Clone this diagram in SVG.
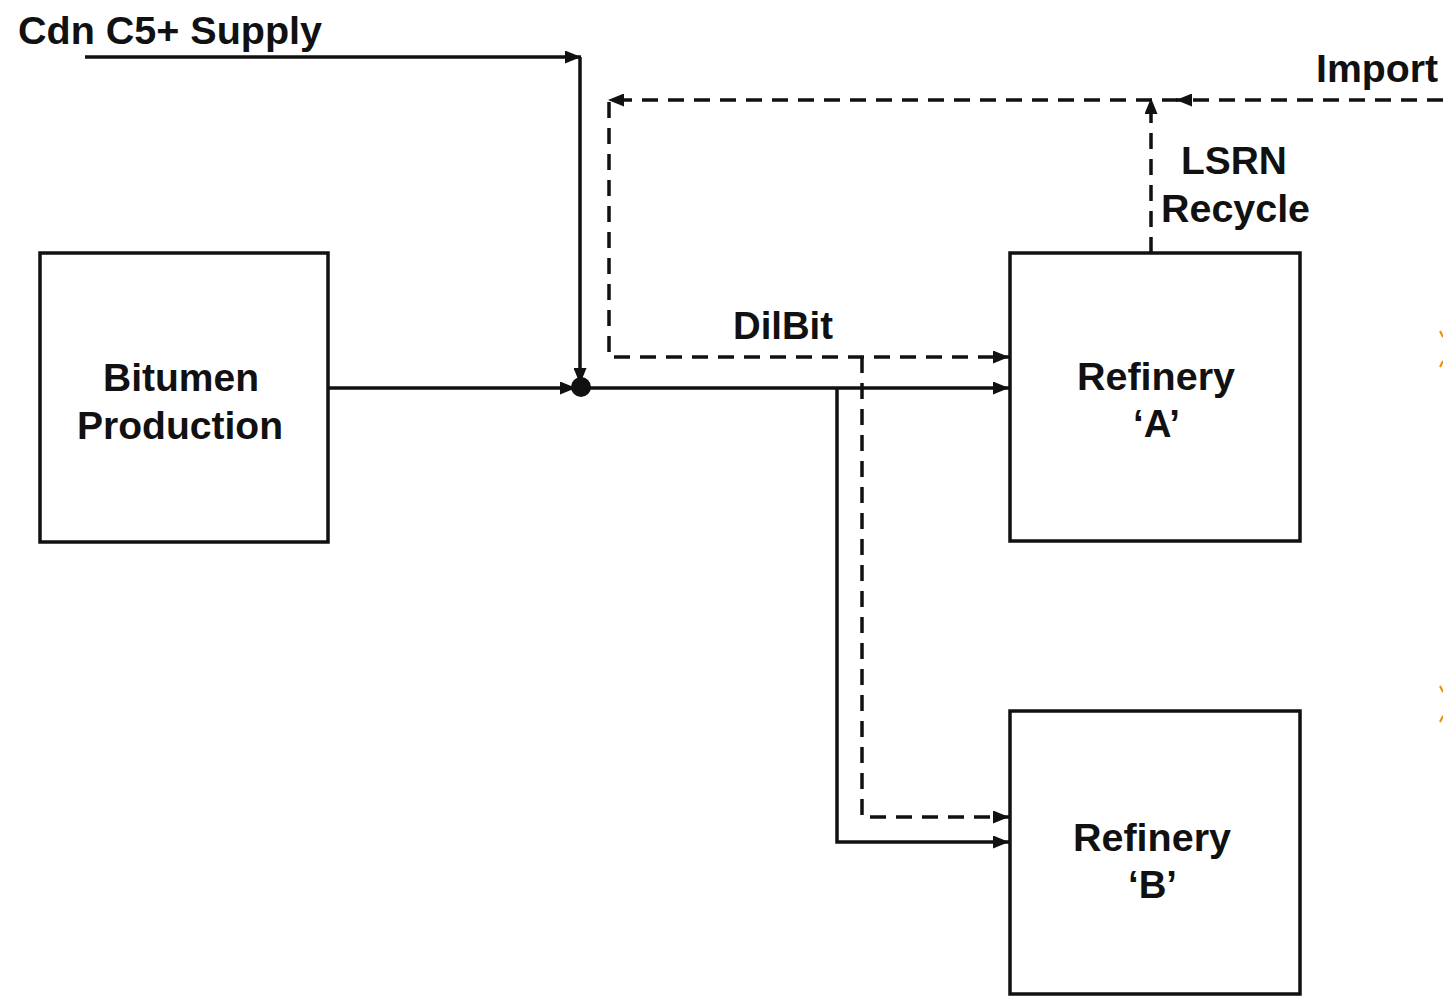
<svg xmlns="http://www.w3.org/2000/svg" width="1443" height="997" viewBox="0 0 1443 997">
<style>
.box{fill:#fff;stroke:#111;stroke-width:3.5}
.t{font-family:"Liberation Sans",Arial,sans-serif;font-weight:bold;font-size:38px;fill:#111}
.s{fill:none;stroke:#111;stroke-width:3.5}
.d{fill:none;stroke:#111;stroke-width:3.5;stroke-dasharray:16 10}
.o{fill:none;stroke:#f08a00;stroke-width:2}
</style>
<defs>
<marker id="ah" viewBox="0 0 16 13" refX="16" refY="6.5" markerWidth="16" markerHeight="13" markerUnits="userSpaceOnUse" orient="auto">
<path d="M0,0 L16,6.5 L0,13 Z" fill="#111"/>
</marker>
</defs>
<rect width="1443" height="997" fill="#fff"/>
<g id="connectors">
<path class="s" d="M85,57 H581" marker-end="url(#ah)"/>
<path class="s" d="M580,57 V384" marker-end="url(#ah)"/>
<path class="s" d="M328,388 H576" marker-end="url(#ah)"/>
<path class="s" d="M581,388 H1009" marker-end="url(#ah)"/>
<path class="s" d="M837,388 V842 H1009" marker-end="url(#ah)"/>
<path class="d" d="M1443,100 H1176" marker-end="url(#ah)"/>
<path class="d" d="M1178,100 H608" marker-end="url(#ah)"/>
<path class="d" d="M1151,253 V98" marker-end="url(#ah)"/>
<path class="d" d="M609,102 V357 H1009" marker-end="url(#ah)"/>
<path class="d" d="M862,357 V817 H1009" marker-end="url(#ah)"/>
<circle cx="581" cy="387" r="10" fill="#111"/>
</g>
<g id="bitumen">
<rect class="box" x="40" y="253" width="288" height="289"/>
<text class="t" x="103" y="391" textLength="156" lengthAdjust="spacingAndGlyphs">Bitumen</text>
<text class="t" x="77" y="439" textLength="206" lengthAdjust="spacingAndGlyphs">Production</text>
</g>
<g id="refineryA">
<rect class="box" x="1010" y="253" width="290" height="288"/>
<text class="t" x="1077" y="390" textLength="158" lengthAdjust="spacingAndGlyphs">Refinery</text>
<text class="t" x="1133" y="437" textLength="47" lengthAdjust="spacingAndGlyphs">‘A’</text>
</g>
<g id="refineryB">
<rect class="box" x="1010" y="711" width="290" height="283"/>
<text class="t" x="1073" y="851" textLength="158" lengthAdjust="spacingAndGlyphs">Refinery</text>
<text class="t" x="1128" y="898" textLength="49" lengthAdjust="spacingAndGlyphs">‘B’</text>
</g>
<g id="labels">
<text class="t" x="18" y="44" textLength="304" lengthAdjust="spacingAndGlyphs">Cdn C5+ Supply</text>
<text class="t" x="1316" y="82" textLength="122" lengthAdjust="spacingAndGlyphs">Import</text>
<text class="t" x="1181" y="174" textLength="106" lengthAdjust="spacingAndGlyphs">LSRN</text>
<text class="t" x="1161" y="222" textLength="149" lengthAdjust="spacingAndGlyphs">Recycle</text>
<text class="t" x="733" y="339" textLength="100" lengthAdjust="spacingAndGlyphs">DilBit</text>
</g>
<g id="edge-marks">
<path class="o" d="M1440,331 L1443,337 M1440,367 L1443,361"/>
<path class="o" d="M1440,686 L1443,692 M1440,722 L1443,716"/>
</g>
</svg>
